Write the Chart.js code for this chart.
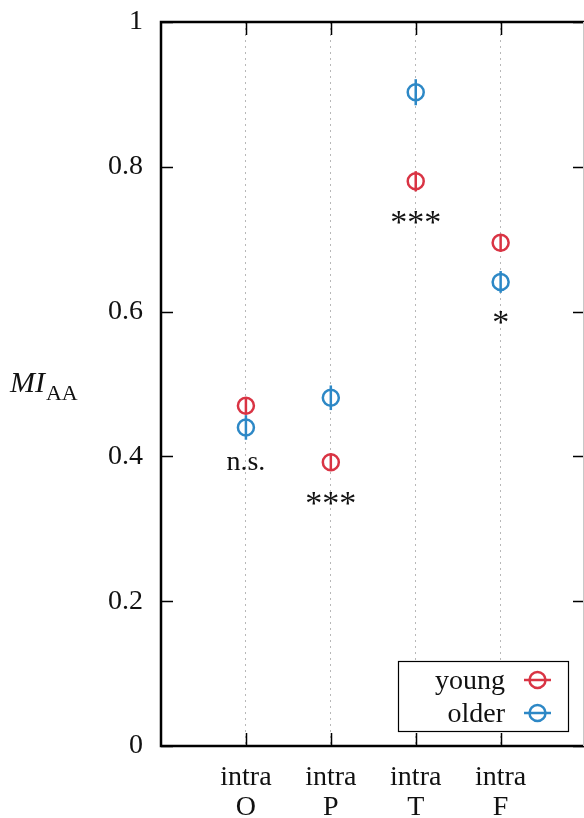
<!DOCTYPE html>
<html>
<head>
<meta charset="utf-8">
<script src="https://cdn.jsdelivr.net/npm/chart.js@4"></script>
<style>
  html, body { margin: 0; padding: 0; background: #fff; }
  canvas { display: block; }
</style>
</head>
<body>
<canvas id="miChart" width="584" height="818"></canvas>
<script>
const categories = ['O', 'P', 'T', 'F'];
const youngMI = [0.470, 0.392, 0.780, 0.695];
const youngErr = [0.012, 0.012, 0.014, 0.012];
const olderMI = [0.440, 0.481, 0.903, 0.641];
const olderErr = [0.017, 0.017, 0.018, 0.015];
const significance = ['n.s.', '***', '***', '*'];
const yTicks = [0, 0.2, 0.4, 0.6, 0.8, 1];

const RED = '#d93444';
const BLUE = '#2d88c6';
const FONT = '"Liberation Serif", "Times New Roman", serif';

function points(vals) {
  return vals.map((v, i) => ({ x: i + 1, y: v }));
}

const extras = {
  id: 'extras',
  afterDatasetsDraw(chart) {
    const ctx = chart.ctx;
    const x = chart.scales.x, y = chart.scales.y;
    // error bars
    [[youngMI, youngErr, RED], [olderMI, olderErr, BLUE]].forEach(([vals, errs, col]) => {
      ctx.save();
      ctx.strokeStyle = col;
      ctx.lineWidth = 2.5;
      vals.forEach((v, i) => {
        const px = x.getPixelForValue(i + 1);
        ctx.beginPath();
        ctx.moveTo(px, y.getPixelForValue(v - errs[i]));
        ctx.lineTo(px, y.getPixelForValue(v + errs[i]));
        ctx.stroke();
      });
      ctx.restore();
    });
  },
  afterDraw(chart) {
    const ctx = chart.ctx;
    const { left, right, top, bottom } = chart.chartArea;
    const x = chart.scales.x, y = chart.scales.y;
    ctx.save();
    ctx.strokeStyle = '#000';
    ctx.lineWidth = 1.5;
    // tick marks
    ctx.beginPath();
    yTicks.forEach(t => {
      const py = Math.round(y.getPixelForValue(t)) + 0.5;
      ctx.moveTo(left, py); ctx.lineTo(left + 12, py);
      ctx.moveTo(right + 2, py); ctx.lineTo(right - 10, py);
    });
    categories.forEach((c, i) => {
      const px = Math.round(x.getPixelForValue(i + 1)) + 0.5;
      ctx.moveTo(px, bottom); ctx.lineTo(px, bottom - 13);
      ctx.moveTo(px, top); ctx.lineTo(px, top + 13);
    });
    ctx.stroke();

    // significance labels, centred a fixed distance below the lower marker
    ctx.fillStyle = '#111';
    ctx.textAlign = 'center';
    ctx.textBaseline = 'alphabetic';
    significance.forEach((s, i) => {
      const low = Math.min(youngMI[i], olderMI[i]);
      const px = x.getPixelForValue(i + 1);
      ctx.font = (s === 'n.s.' ? '28px ' : '34px ') + FONT;
      const m = ctx.measureText(s);
      const mid = (m.actualBoundingBoxAscent - m.actualBoundingBoxDescent) / 2;
      ctx.fillText(s, px, y.getPixelForValue(low) + 36 + mid);
    });

    // legend
    const bx = 398, by = 661, bw = 170, bh = 70;
    ctx.fillStyle = '#fff';
    ctx.fillRect(bx, by, bw, bh);
    ctx.lineWidth = 1.2;
    ctx.strokeRect(bx + 0.5, by + 0.5, bw, bh);
    ctx.fillStyle = '#111';
    ctx.font = '28px ' + FONT;
    ctx.textAlign = 'right';
    [['young', RED, 680, 689], ['older', BLUE, 713, 722]].forEach(([lab, col, cy, base]) => {
      ctx.fillText(lab, 505, base);
      ctx.strokeStyle = col;
      ctx.lineWidth = 2.5;
      ctx.beginPath();
      ctx.moveTo(524, cy); ctx.lineTo(551, cy);
      ctx.stroke();
      ctx.beginPath();
      ctx.arc(537.5, cy, 8, 0, Math.PI * 2);
      ctx.stroke();
    });

    // frame
    ctx.strokeStyle = '#000';
    ctx.lineWidth = 2.5;
    ctx.beginPath();
    ctx.moveTo(right + 3, top);
    ctx.lineTo(left, top);
    ctx.lineTo(left, bottom);
    ctx.lineTo(right + 3, bottom);
    ctx.stroke();
    ctx.strokeStyle = '#c8c8c8';
    ctx.lineWidth = 1;
    ctx.beginPath();
    ctx.moveTo(right + 0.5, top);
    ctx.lineTo(right + 0.5, bottom);
    ctx.stroke();

    // y title
    ctx.fillStyle = '#111';
    ctx.textAlign = 'left';
    ctx.font = 'italic 30px ' + FONT;
    ctx.fillText('MI', 10, 392);
    const w = ctx.measureText('MI').width;
    ctx.font = '22px ' + FONT;
    ctx.fillText('AA', 10 + w + 1, 400);
    ctx.restore();
  }
};

new Chart(document.getElementById('miChart'), {
  type: 'scatter',
  data: {
    datasets: [
      {
        label: 'young',
        data: points(youngMI),
        borderColor: RED,
        backgroundColor: 'rgba(0,0,0,0)',
        pointRadius: 8,
        pointBorderWidth: 2.5
      },
      {
        label: 'older',
        data: points(olderMI),
        borderColor: BLUE,
        backgroundColor: 'rgba(0,0,0,0)',
        pointRadius: 8,
        pointBorderWidth: 2.5
      }
    ]
  },
  options: {
    responsive: false,
    animation: false,
    layout: { autoPadding: false, padding: { top: 22, right: 1, left: 0, bottom: 0 } },
    plugins: {
      legend: { display: false },
      tooltip: { enabled: false }
    },
    scales: {
      x: {
        type: 'linear',
        min: 0,
        max: 4.97,
        afterBuildTicks: s => { s.ticks = categories.map((c, i) => ({ value: i + 1 })); },
        afterFit: s => {
          s.height = 72;
          s.paddingLeft = 0;
          s.paddingRight = 0;
        },
        ticks: {
          autoSkip: false,
          maxRotation: 0,
          color: '#111',
          padding: 17,
          font: { family: FONT, size: 28, lineHeight: 1.07 },
          callback: v => ['intra', categories[v - 1]]
        },
        grid: { color: '#b8b8b8', lineWidth: 1, drawTicks: false },
        border: { display: false, dash: [2, 4] }
      },
      y: {
        min: 0,
        max: 1,
        afterBuildTicks: s => { s.ticks = yTicks.map(v => ({ value: v })); },
        afterFit: s => {
          s.width = 161;
          s.paddingTop = 0;
          s.paddingBottom = 0;
        },
        ticks: {
          color: '#111',
          padding: 18,
          font: { family: FONT, size: 28 },
          callback: v => String(v)
        },
        grid: { display: false, drawTicks: false },
        border: { display: false }
      }
    }
  },
  plugins: [extras]
});
</script>
</body>
</html>
